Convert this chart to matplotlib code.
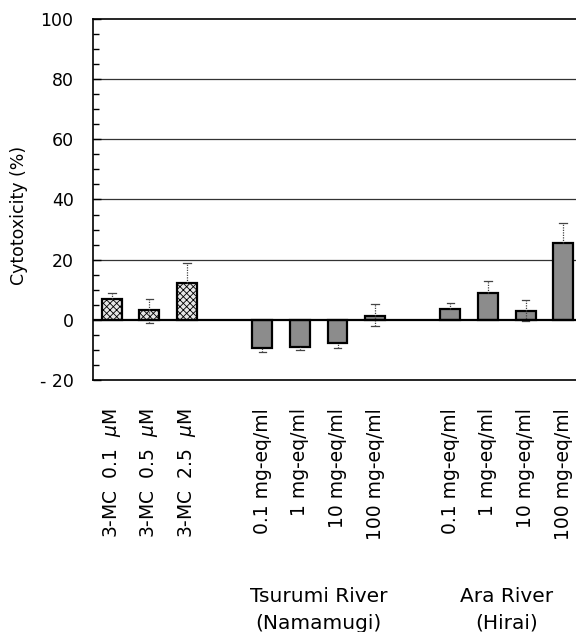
import numpy as np
import matplotlib
matplotlib.use("Agg")
import matplotlib.pyplot as plt
from matplotlib.ticker import MultipleLocator

plt.rcParams['font.family'] = ['DejaVu Sans']
plt.rcParams['hatch.linewidth'] = 0.6

# ---- data ----
labels = ["3-MC  0.1  $\\mu$M", "3-MC  0.5  $\\mu$M", "3-MC  2.5  $\\mu$M",
          "0.1 mg-eq/ml", "1 mg-eq/ml", "10 mg-eq/ml", "100 mg-eq/ml",
          "0.1 mg-eq/ml", "1 mg-eq/ml", "10 mg-eq/ml", "100 mg-eq/ml"]
slots = [0, 1, 2, 4, 5, 6, 7, 9, 10, 11, 12]
values = [6.8, 3.2, 12.3, -9.3, -9.0, -7.7, 1.3, 3.7, 9.0, 3.0, 25.7]
err_up = [2.2, 3.8, 6.7, 0.0, 0.0, 0.0, 4.0, 2.0, 4.0, 3.7, 6.6]
err_dn = [0.0, 4.2, 0.0, 1.4, 1.0, 1.6, 3.3, 0.0, 0.0, 3.5, 0.0]
is_ref = [True, True, True, False, False, False, False, False, False, False, False]
groups = ["Tsurumi River\n(Namamugi)", "Ara River\n(Hirai)"]
group_pos = [5.5, 10.5]

fig = plt.figure(figsize=(5.76, 6.32), dpi=100)
ax = fig.add_axes([0.1615, 0.3987, 0.8385, 0.5713])

for s, v, ref in zip(slots, values, is_ref):
    if ref:
        ax.bar(s, v, width=0.53, facecolor="#e6e6e6", edgecolor="black",
               linewidth=1.6, hatch="xxxxx", zorder=3)
    else:
        ax.bar(s, v, width=0.53, facecolor="#8c8c8c", edgecolor="black",
               linewidth=1.6, zorder=3)

# error bars: dotted stem with small cap
for s, v, eu, ed in zip(slots, values, err_up, err_dn):
    for top, bot in [(v + eu, v), (v, v - ed)]:
        if top - bot > 0:
            ax.plot([s, s], [bot, top], color="#444444", lw=0.9, ls=(0, (1, 1)), zorder=4)
    if eu > 0:
        ax.plot([s - 0.1, s + 0.1], [v + eu] * 2, color="#444444", lw=0.9, zorder=4)
    if ed > 0:
        ax.plot([s - 0.1, s + 0.1], [v - ed] * 2, color="#444444", lw=0.9, zorder=4)

ax.axhline(0, color="black", lw=1.6, zorder=5)
for g in [20, 40, 60, 80]:
    ax.axhline(g, color="#333333", lw=0.9, zorder=1)

ax.set_xlim(-0.5, 12.34)
ax.set_ylim(-20, 100)
ax.yaxis.set_minor_locator(MultipleLocator(5))
ax.set_yticks([-20, 0, 20, 40, 60, 80, 100])
ax.set_yticklabels(["- 20", "0", "20", "40", "60", "80", "100"], fontsize=12.5)
ax.tick_params(axis="y", which="major", direction="in", length=6, width=1, pad=14)
ax.tick_params(axis="y", which="minor", direction="in", length=4, width=1)
ax.set_ylabel("Cytotoxicity (%)", fontsize=12.5)
ax.yaxis.set_label_coords(-0.135, 0.457)

ax.set_xticks(slots)
ax.set_xticklabels(labels, rotation=90, fontsize=13.5, va="top", ha="center")
ax.tick_params(axis="x", length=0, pad=20)

for sp in ["left", "bottom", "top"]:
    ax.spines[sp].set_linewidth(1.2)
ax.spines["right"].set_visible(False)

for gp, gl in zip(group_pos, groups):
    ax.text(gp, -96.5, gl, ha="center", va="center", fontsize=14.5,
            linespacing=1.5, transform=ax.transData, clip_on=False)

fig.savefig("out.png", dpi=100)
